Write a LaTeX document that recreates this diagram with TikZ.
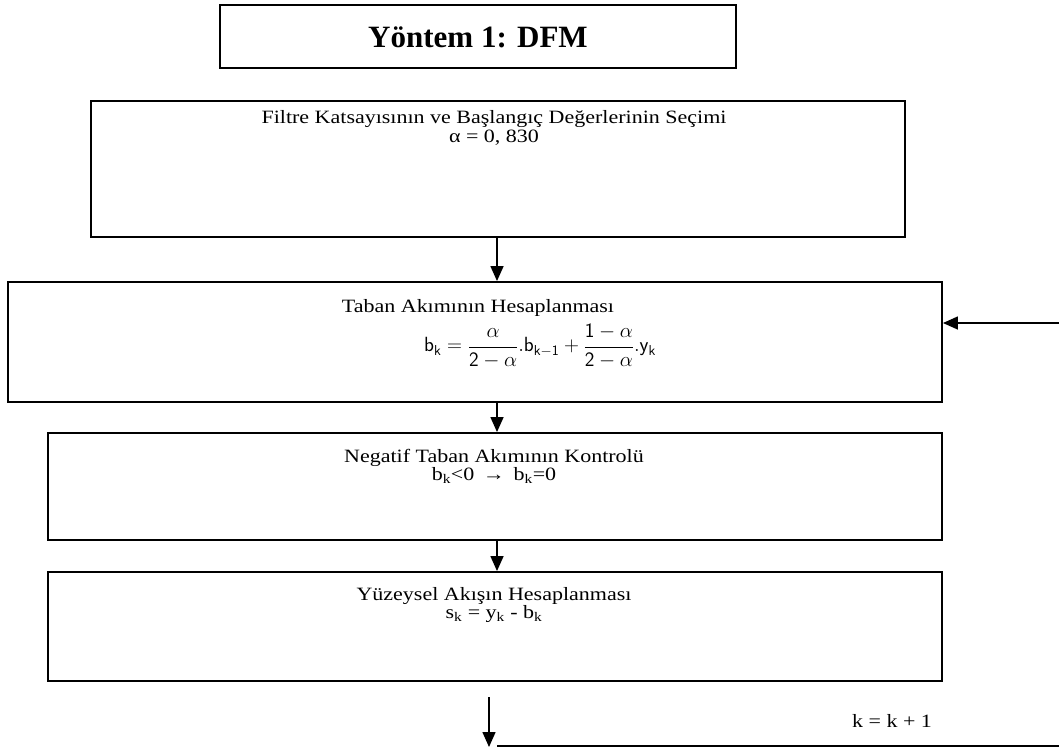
\documentclass[tikz,border=0pt]{standalone}
\usepackage{fontspec}
\setmainfont{Liberation Serif}
\newfontfamily\bodyfont[FakeStretch=1.17]{Liberation Serif}
\usetikzlibrary{arrows.meta}
\tikzset{
  box/.style={draw, line width=1.9pt, rectangle, inner sep=0pt},
  arr/.style={line width=1.5pt, -{Triangle[length=15pt,width=13pt]}},
  plain/.style={line width=1.7pt},
  txt/.style={font=\bodyfont\fontsize{18.8}{22}\selectfont, inner sep=0pt, anchor=base},
  ttl/.style={font=\fontsize{31}{36}\selectfont\bfseries, inner sep=0pt, anchor=base},
}
\begin{document}
\begin{tikzpicture}[x=1pt,y=-1pt]
\useasboundingbox (0,0) rectangle (1059,748);
% boxes
\node[box, minimum width=516pt, minimum height=63pt] (title) at (478,36.5) {};
\node[box, minimum width=814pt, minimum height=136pt] (b1) at (498,169) {};
\node[box, minimum width=934pt, minimum height=120pt] (b2) at (475,342) {};
\node[box, minimum width=894pt, minimum height=107pt] (b3) at (495,486.5) {};
\node[box, minimum width=894pt, minimum height=109pt] (b4) at (495,626.5) {};
% texts
\node[ttl] (t0) at (478,47) {Yöntem 1: DFM};
\node[txt] (t1a) at (494,123) {Filtre Katsayısının ve Başlangıç Değerlerinin Seçimi};
\node[txt] (t1b) at (494,142) {α = 0, 830};
\node[txt] (t2a) at (478,312) {Taban Akımının Hesaplanması};
\node[inner sep=0pt, font=\fontsize{20.5}{24}\selectfont] (t2b) at (540,346)
  {$\displaystyle \mathsf{b_k}=\frac{\alpha}{\mathsf{2}-\alpha}.\mathsf{b_{k-1}}+\frac{\mathsf{1}-\alpha}{\mathsf{2}-\alpha}.\mathsf{y_k}$};
\node[txt] (t3a) at (494,462) {Negatif Taban Akımının Kontrolü};
\node[txt] (t3b) at (494,480) {b\textsubscript{k}<0 \,→\, b\textsubscript{k}=0};
\node[txt] (t4a) at (494,600) {Yüzeysel Akışın Hesaplanması};
\node[txt] (t4b) at (494,618) {s\textsubscript{k} = y\textsubscript{k} - b\textsubscript{k}};
\node[txt] (kk) at (892,727) {k = k + 1};
% free ends
\coordinate (r0) at (1059,323);
\coordinate (a4s) at (489,697);
\coordinate (a4e) at (489,747);
\coordinate (l0) at (497,746);
\coordinate (l1) at (1059,746);
% connectors
\draw[arr] (b1.south -| 497,0) -- (b2.north -| 497,0);
\draw[arr] (b2.south -| 497,0) -- (b3.north -| 497,0);
\draw[arr] (b3.south -| 497,0) -- (b4.north -| 497,0);
\draw[arr] (r0) -- (b2.east |- r0);
\draw[arr] (a4s) -- (a4e);
\draw[plain] (l0) -- (l1);
\end{tikzpicture}
\end{document}
